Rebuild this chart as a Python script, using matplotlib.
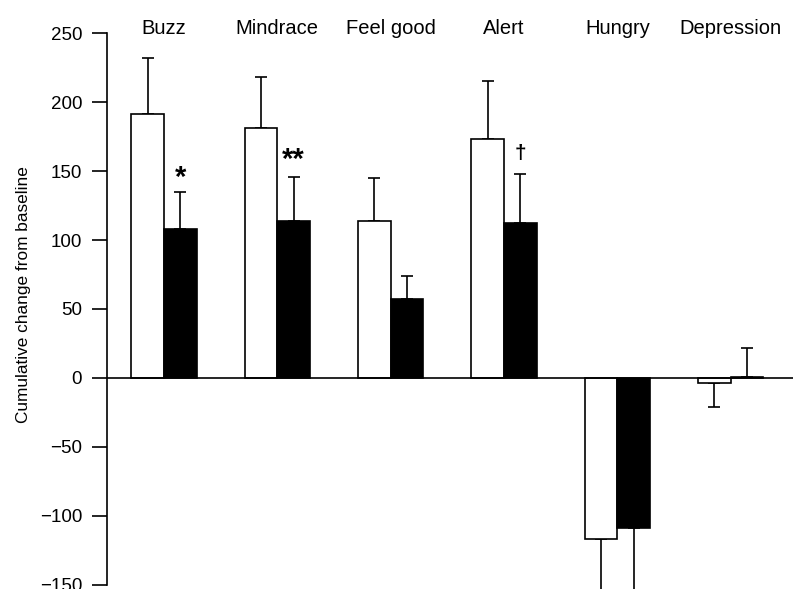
import matplotlib
matplotlib.use('Agg')
import matplotlib.pyplot as plt
import numpy as np

categories = ['Buzz', 'Mindrace', 'Feel good', 'Alert', 'Hungry', 'Depression']
white_vals = [191, 181, 114, 173, -117, -4]
white_err = [41, 37, 31, 42, 60, 17]
black_vals = [108, 114, 57, 112, -109, 1]
black_err = [27, 32, 17, 36, 60, 21]
marks = {0: '*', 1: '**', 3: '\u2020'}
mark_y = {0: 145, 1: 158, 3: 163}

plt.rcParams['font.family'] = ['Liberation Sans', 'DejaVu Sans']

fig = plt.figure(figsize=(7.93, 5.89), dpi=100)
ax = fig.add_axes([107 / 793, 0, 1 - 107 / 793, 1])

x = np.arange(len(categories))
w = 0.287
lw = 1.2


def one_sided(vals, errs):
    lo = [e if v < 0 else 0 for v, e in zip(vals, errs)]
    hi = [e if v >= 0 else 0 for v, e in zip(vals, errs)]
    return [lo, hi]


ax.bar(x - w / 2, white_vals, w, color='white', edgecolor='black', linewidth=lw, zorder=2)
ax.bar(x + w / 2, black_vals, w, color='black', edgecolor='black', linewidth=lw, zorder=2)
ax.errorbar(x - w / 2, white_vals, yerr=one_sided(white_vals, white_err), fmt='none',
            ecolor='black', elinewidth=lw, capsize=4, capthick=lw, zorder=1)
ax.errorbar(x + w / 2, black_vals, yerr=one_sided(black_vals, black_err), fmt='none',
            ecolor='black', elinewidth=lw, capsize=4, capthick=lw, zorder=1)

ax.axhline(0, color='black', linewidth=lw, zorder=3)

for i, m in marks.items():
    ax.text(x[i] + w / 2, mark_y[i], m, ha='center', va='center',
            fontsize=21 if m != '\u2020' else 15, fontweight='bold')

for i, c in enumerate(categories):
    ax.text(x[i], 253, c, ha='center', va='center', fontsize=14.5)

ax.set_xlim(-0.503, 5.55)
ax.set_ylim(-153, 274)
ax.set_yticks([-150, -100, -50, 0, 50, 100, 150, 200, 250])
ax.set_xticks([])
ax.spines['top'].set_visible(False)
ax.spines['right'].set_visible(False)
ax.spines['bottom'].set_visible(False)
ax.spines['left'].set_bounds(-150, 250)
ax.spines['left'].set_linewidth(lw)
ax.tick_params(axis='y', length=11, width=lw, pad=7, labelsize=13.5)
ax.set_yticklabels(['\u2212150', '\u2212100', '\u221250', '0', '50', '100', '150', '200', '250'])
ax.set_ylabel('Cumulative change from baseline', fontsize=12.4, labelpad=6)

fig.savefig('out.png', dpi=100)
